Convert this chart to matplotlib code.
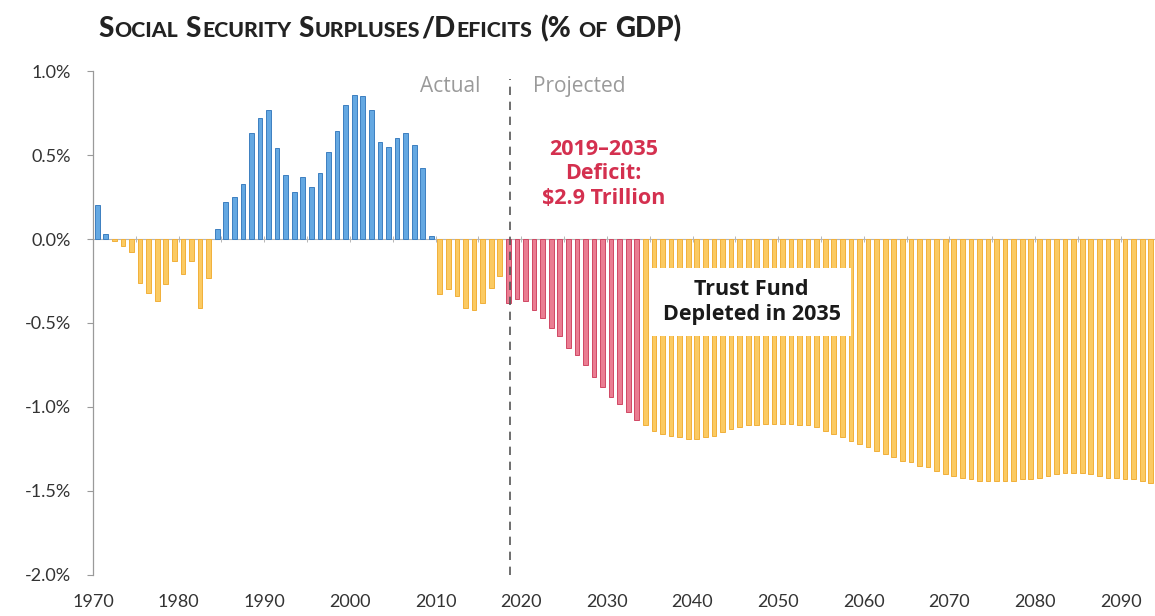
import numpy as np
import matplotlib.pyplot as plt

plt.rcParams['font.family'] = ['Lato', 'DejaVu Sans']

# Social Security surplus (+) / deficit (-) as % of GDP, one value per year
actual_years = list(range(1970, 2018))
actual_vals = [0.20, 0.03, -0.01, -0.04, -0.08, -0.26, -0.32, -0.37, -0.27, -0.13,
               -0.21, -0.13, -0.41, -0.23, 0.06, 0.22, 0.25, 0.33, 0.63, 0.72,
               0.77, 0.54, 0.38, 0.28, 0.37, 0.31, 0.39, 0.52, 0.64, 0.80,
               0.86, 0.85, 0.77, 0.58, 0.55, 0.60, 0.63, 0.56, 0.42, 0.02,
               -0.33, -0.30, -0.34, -0.41, -0.42, -0.38, -0.29, -0.22]

# deficits covered by the trust fund (red)
red_years = list(range(2018, 2034))
red_vals = [-0.38, -0.36, -0.37, -0.42, -0.47, -0.53, -0.58, -0.65, -0.69, -0.75,
            -0.82, -0.88, -0.94, -0.98, -1.03, -1.08]

# projected after depletion
late_years = list(range(2034, 2094))
late_vals = [-1.11, -1.14, -1.16, -1.17, -1.18, -1.19, -1.19, -1.18, -1.17, -1.15,
             -1.13, -1.12, -1.11, -1.11, -1.10, -1.10, -1.10, -1.10, -1.11, -1.11,
             -1.12, -1.14, -1.16, -1.18, -1.20, -1.22, -1.24, -1.26, -1.28, -1.30,
             -1.32, -1.33, -1.35, -1.36, -1.38, -1.40, -1.41, -1.42, -1.43, -1.44,
             -1.44, -1.44, -1.44, -1.44, -1.43, -1.43, -1.42, -1.41, -1.40, -1.39,
             -1.39, -1.39, -1.40, -1.41, -1.42, -1.42, -1.43, -1.43, -1.44, -1.45]

decade_ticks = list(range(1970, 2091, 10))
pct_ticks = [1.0, 0.5, 0.0, -0.5, -1.0, -1.5, -2.0]
split_x = 2018.65

BLUE, BLUE_E = '#64a8e2', '#3d7fc0'
YELLOW, YELLOW_E = '#fbca62', '#f1b03a'
RED, RED_E = '#ea7d92', '#d04864'
GRAY = '#9a9a9a'

fig = plt.figure(figsize=(11.55, 6.16), dpi=100)
ax = fig.add_axes([0.0805, 0.0666, 0.9195, 0.8181])

av = np.array(actual_vals)
ax.bar(np.array(actual_years) + 0.5, av, width=0.55,
       color=np.where(av >= 0, BLUE, YELLOW), edgecolor=np.where(av >= 0, BLUE_E, YELLOW_E),
       lw=0.7, zorder=2)
ax.bar(np.array(red_years) + 0.5, red_vals, width=0.55, color=RED, edgecolor=RED_E,
       lw=0.7, zorder=2)
ax.bar(np.array(late_years) + 0.5, late_vals, width=0.55, color=YELLOW, edgecolor=YELLOW_E,
       lw=0.7, zorder=2)

ax.set_xlim(1970, 2094.0)
ax.set_ylim(-2.0, 1.0)

# left spine + zero line carrying small 5-year ticks
for s in ['top', 'right']:
    ax.spines[s].set_visible(False)
ax.spines['left'].set_color(GRAY)
ax.spines['left'].set_linewidth(0.9)
ax.spines['bottom'].set_position(('data', 0))
ax.spines['bottom'].set_color('#b5b5b5')
ax.spines['bottom'].set_linewidth(0.8)
ax.spines['bottom'].set_zorder(1)
ax.set_xticks(range(1970, 2095, 5))
ax.tick_params(axis='x', direction='inout', length=5, width=0.7, color='#b5b5b5',
               labelbottom=False)
ax.set_yticks(pct_ticks)
ax.set_yticklabels([f'{v:.1f}%' for v in pct_ticks])
ax.tick_params(axis='y', length=4, width=0.8, color=GRAY, pad=12,
               labelsize=13, labelcolor='#333333')

sec = ax.secondary_xaxis(0.0)
sec.set_xticks(decade_ticks)
sec.set_xticklabels([str(y) for y in decade_ticks])
sec.tick_params(length=0, pad=14, labelsize=13, labelcolor='#333333')
sec.spines['bottom'].set_visible(False)

# actual / projected divider
ax.axvline(split_x, ymin=0.0, ymax=0.985, color='#555555', lw=1.2,
           ls=(0, (5, 4)), zorder=3)
ax.annotate('Actual', (split_x, 0.91), xytext=(-21, 0), textcoords='offset points',
            ha='right', va='center', fontsize=15, color=GRAY, family=['Open Sans', 'DejaVu Sans'])
ax.annotate('Projected', (split_x, 0.91), xytext=(17, 0), textcoords='offset points',
            ha='left', va='center', fontsize=15, color=GRAY, family=['Open Sans', 'DejaVu Sans'])

ax.text(2029.6, 0.387, '2019\u20132035\nDeficit:\n$2.9 Trillion', ha='center', va='center',
        fontsize=15.5, fontweight='bold', color='#d4304f', linespacing=1.2, zorder=4,
        family=['Open Sans', 'DejaVu Sans'])

ax.text(2046.9, -0.375, 'Trust Fund\nDepleted in 2035', ha='center', va='center',
        fontsize=15.5, fontweight='bold', color='#1a1a1a', linespacing=1.25, zorder=5,
        family=['Open Sans', 'DejaVu Sans'],
        bbox=dict(boxstyle='square,pad=0.5', fc='white', ec='none'))

# title in small caps, built from runs of big and small capitals
title_runs = [('S', 1), ('ocial', 0), (' ', 2), ('S', 1), ('ecurity', 0), (' ', 2),
              ('S', 1), ('urpluses', 0), ('/D', 1), ('eficits', 0), (' ', 2),
              ('(%', 1), (' ', 2), ('of', 0), (' ', 2), ('GDP)', 1)]
renderer = fig.canvas.get_renderer()
tx, ty = 98 / 1155, 1 - 37 / 616
for run, kind in title_runs:
    if kind == 2:
        tx += 6.5 / 1155
        continue
    t = fig.text(tx, ty, run.upper(), fontsize=20 if kind else 15.3, fontweight='black',
                 color='#222222', ha='left', va='baseline')
    tx += (t.get_window_extent(renderer).width + 1.0) / 1155

fig.savefig('out.png', dpi=100)
